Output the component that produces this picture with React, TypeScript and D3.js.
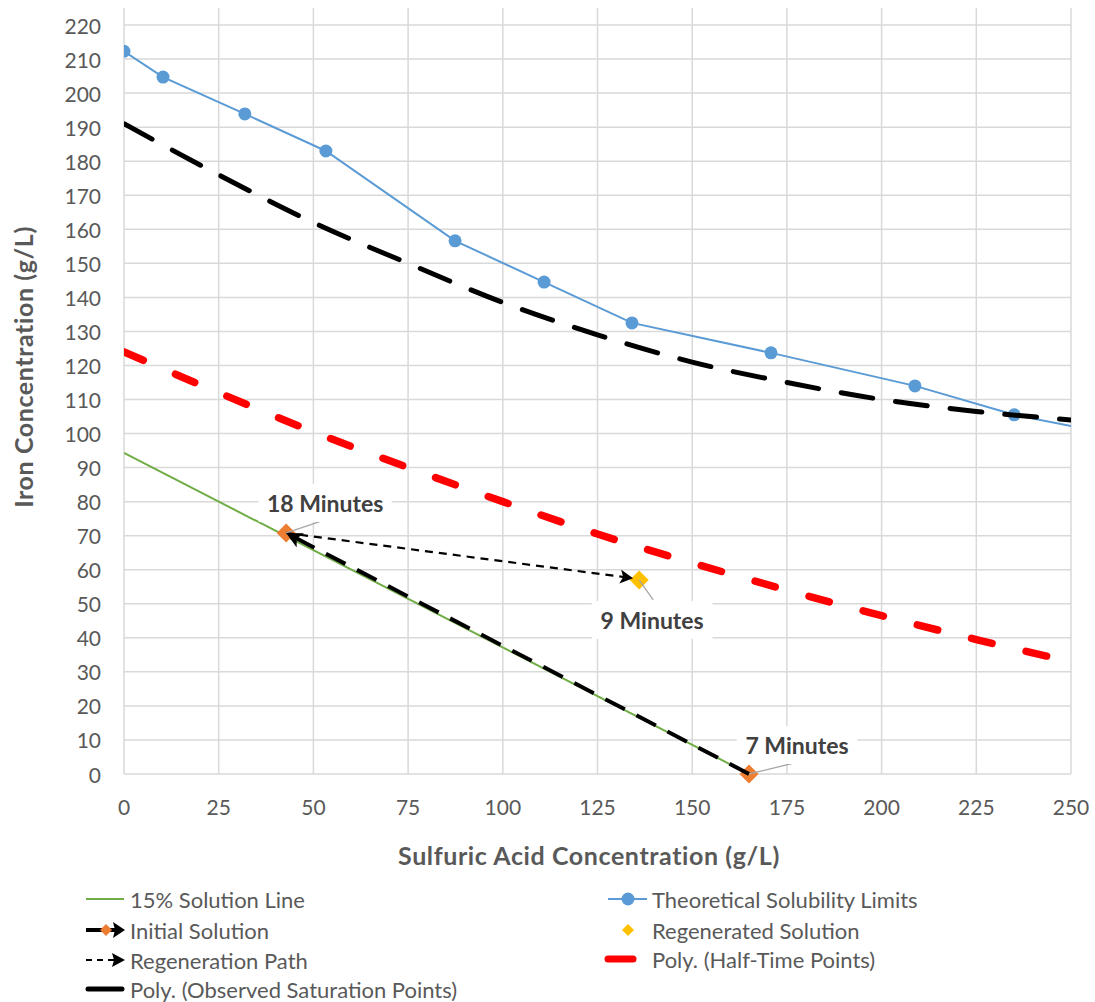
import React from 'react';
import * as d3 from 'd3';

// ---- data ----
const xTicks = [0, 25, 50, 75, 100, 125, 150, 175, 200, 225, 250];
const yTicks = [0, 10, 20, 30, 40, 50, 60, 70, 80, 90, 100, 110, 120, 130, 140, 150, 160, 170, 180, 190, 200, 210, 220];

// Theoretical Solubility Limits
const solX = [0, 10.3, 31.9, 53.3, 87.4, 110.9, 134.1, 170.8, 208.8, 235, 262];
const solY = [212.3, 204.7, 193.9, 183, 156.6, 144.5, 132.5, 123.7, 114, 105.5, 99.6];

// 15% Solution Line
const lineX = [0, 165];
const lineY = [94.3, 0];

// Initial Solution (7 min -> 18 min)
const initX = [165, 42.8];
const initY = [0, 70.8];
const initLabels = ['7 Minutes', '18 Minutes'];

// Regenerated Solution
const regenX = [136];
const regenY = [57];
const regenLabels = ['9 Minutes'];

// Regeneration Path
const pathX = [42.8, 136];
const pathY = [70.8, 57];

// Polynomial trendlines
const trendX = [0, 25, 50, 75, 100, 125, 150, 175, 200, 225, 250];
const obsY = [191, 176, 162, 150, 138.5, 129, 121, 115, 110, 106.5, 104];
const halfY = [124, 112, 100.5, 90, 80, 70.5, 62, 54, 46.5, 39.5, 33];

const W = 1095;
const H = 1002;
const FONT = 'Lato, "Open Sans", sans-serif';
const TXT = '#595959';

const x = d3.scaleLinear().domain([0, 250]).range([124, 1071]);
const y = d3.scaleLinear().domain([0, 225]).range([774, 8]);

const zip = (xs: number[], ys: number[]) => xs.map((v, i) => [v, ys[i]] as [number, number]);

const straight = d3.line<[number, number]>().x(d => x(d[0])).y(d => y(d[1]));
const smooth = d3.line<[number, number]>().x(d => x(d[0])).y(d => y(d[1])).curve(d3.curveMonotoneX);

const diamond = (cx: number, cy: number, r: number) =>
  `M${cx},${cy - r}L${cx + r},${cy}L${cx},${cy + r}L${cx - r},${cy}Z`;

function Label({ px, py, dx, dy, lx, ly, text }: any) {
  const tw = text.length * 12.3 + 10;
  return (
    <g>
      <line x1={px} y1={py} x2={px + lx} y2={py + ly} stroke="#a6a6a6" strokeWidth={1.3} />
      <rect x={px + dx - tw / 2} y={py + dy - 19} width={tw} height={38} fill="#fff" />
      <text x={px + dx} y={py + dy} textAnchor="middle" dominantBaseline="central"
        fontFamily={FONT} fontWeight="bold" fontSize={23} fill="#404040">{text}</text>
    </g>
  );
}

export default function App() {
  const sol = zip(solX, solY);
  const initPts = zip(initX, initY);
  const regenPts = zip(regenX, regenY);
  const pathPts = zip(pathX, pathY);
  const labelOffsets = [
    { dx: 48, dy: -29, lx: 49, ly: -12 },
    { dx: 39, dy: -30, lx: 39, ly: -13 },
  ];

  return (
    <svg width={W} height={H} style={{ position: 'absolute', left: 0, top: 0, background: '#fff' }}>
      <defs>
        <clipPath id="plot">
          <rect x={124} y={8} width={947} height={766} />
        </clipPath>
        <marker id="arrowBig" markerUnits="userSpaceOnUse" markerWidth={18} markerHeight={16}
          refX={16} refY={8} orient="auto" viewBox="0 0 18 16">
          <path d="M0,0L16,8L0,16L4,8Z" fill="#000" />
        </marker>
        <marker id="arrowSmall" markerUnits="userSpaceOnUse" markerWidth={14} markerHeight={14}
          refX={13} refY={7} orient="auto" viewBox="0 0 14 14">
          <path d="M0,0L13,7L0,14L3,7Z" fill="#000" />
        </marker>
      </defs>

      {/* gridlines */}
      {yTicks.map(t => (
        <line key={'gy' + t} x1={124} x2={1071} y1={y(t)} y2={y(t)} stroke="#d9d9d9" strokeWidth={1.5} />
      ))}
      {xTicks.map(t => (
        <line key={'gx' + t} x1={x(t)} x2={x(t)} y1={8} y2={774} stroke="#d9d9d9" strokeWidth={1.5} />
      ))}

      {/* tick labels */}
      {yTicks.map(t => (
        <text key={'ty' + t} x={101} y={y(t)} textAnchor="end" dominantBaseline="central"
          fontFamily={FONT} fontSize={21} fill={TXT}>{t}</text>
      ))}
      {xTicks.map(t => (
        <text key={'tx' + t} x={x(t)} y={806} textAnchor="middle" dominantBaseline="central"
          fontFamily={FONT} fontSize={21} fill={TXT}>{t}</text>
      ))}

      {/* axis titles */}
      <text x={589} y={855} textAnchor="middle" dominantBaseline="central" fontFamily={FONT}
        fontWeight="bold" fontSize={25} letterSpacing={0.6} fill={TXT}>Sulfuric Acid Concentration (g/L)</text>
      <text transform="translate(23,367) rotate(-90)" textAnchor="middle" dominantBaseline="central"
        fontFamily={FONT} fontWeight="bold" fontSize={25} letterSpacing={0.6} fill={TXT}>Iron Concentration (g/L)</text>

      <g clipPath="url(#plot)">
        {/* 15% solution line */}
        <path d={straight(zip(lineX, lineY)) || ''} fill="none" stroke="#70ad47" strokeWidth={2} />
        {/* theoretical solubility */}
        <path d={straight(sol) || ''} fill="none" stroke="#5b9bd5" strokeWidth={2} />
        {sol.map((d, i) => (
          <circle key={'s' + i} cx={x(d[0])} cy={y(d[1])} r={6.5} fill="#5b9bd5" />
        ))}
      </g>

      {/* initial solution markers */}
      {initPts.map((d, i) => (
        <path key={'i' + i} d={diamond(x(d[0]), y(d[1]), 9.5)} fill="#ed7d31" />
      ))}
      {/* regenerated solution */}
      {regenPts.map((d, i) => (
        <path key={'r' + i} d={diamond(x(d[0]), y(d[1]), 9.5)} fill="#ffc000" />
      ))}

      {/* initial solution line */}
      <path d={straight(initPts) || ''} fill="none" stroke="#000" strokeWidth={4}
        strokeDasharray="22,13" markerEnd="url(#arrowBig)" />

      {/* regeneration path */}
      <path d={straight([pathPts[0], [pathPts[1][0] - 1.6, pathPts[1][1] + 0.5]]) || ''} fill="none" stroke="#000"
        strokeWidth={2.2} strokeDasharray="8,6" markerEnd="url(#arrowSmall)" />

      <g clipPath="url(#plot)">
        {/* trendlines */}
        <path d={smooth(zip(trendX, halfY)) || ''} fill="none" stroke="#ff0000" strokeWidth={7.5}
          strokeLinecap="round" strokeDasharray="21,35" />
        <path d={smooth(zip(trendX, obsY)) || ''} fill="none" stroke="#000" strokeWidth={5}
          strokeLinecap="round" strokeDasharray="32,23" />
      </g>

      {/* data labels */}
      {initPts.map((d, i) => (
        <Label key={'li' + i} px={x(d[0])} py={y(d[1])} {...labelOffsets[i]} text={initLabels[i]} />
      ))}
      {regenPts.map((d, i) => (
        <Label key={'lr' + i} px={x(d[0])} py={y(d[1])} dx={13} dy={40} lx={14} ly={20} text={regenLabels[i]} />
      ))}

      {/* legend */}
      <g fontFamily={FONT} fontSize={22} fill={TXT}>
        <line x1={86} x2={124} y1={899} y2={899} stroke="#70ad47" strokeWidth={2} />
        <text x={130} y={899} dominantBaseline="central">15% Solution Line</text>

        <line x1={86} x2={116} y1={930} y2={930} stroke="#000" strokeWidth={4} />
        <path d={diamond(106, 930, 6)} fill="#ed7d31" />
        <path d="M113,922L125,930L113,938L115,930Z" fill="#000" />
        <text x={130} y={930} dominantBaseline="central">Initial Solution</text>

        <line x1={86} x2={118} y1={960} y2={960} stroke="#000" strokeWidth={2} strokeDasharray="6,5" />
        <path d="M112,953L125,960L112,967L114,960Z" fill="#000" />
        <text x={130} y={960} dominantBaseline="central">Regeneration Path</text>

        <line x1={88} x2={122} y1={989} y2={989} stroke="#000" strokeWidth={5} strokeLinecap="round" />
        <text x={130} y={989} dominantBaseline="central">Poly. (Observed Saturation Points)</text>

        <line x1={608} x2={647} y1={899} y2={899} stroke="#5b9bd5" strokeWidth={2} />
        <circle cx={628} cy={899} r={6.5} fill="#5b9bd5" />
        <text x={652} y={899} dominantBaseline="central">Theoretical Solubility Limits</text>

        <path d={diamond(628, 930, 6)} fill="#ffc000" />
        <text x={652} y={930} dominantBaseline="central">Regenerated Solution</text>

        <line x1={608} x2={633} y1={959} y2={959} stroke="#ff0000" strokeWidth={7} strokeLinecap="round" />
        <text x={652} y={959} dominantBaseline="central">Poly. (Half-Time Points)</text>
      </g>
    </svg>
  );
}
